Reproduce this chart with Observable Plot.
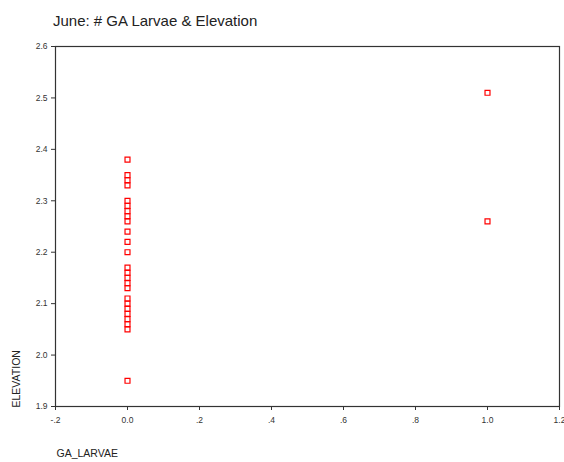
<!DOCTYPE html>
<html>
<head>
<meta charset="utf-8">
<script src="https://cdn.jsdelivr.net/npm/d3@7"></script>
<script src="https://cdn.jsdelivr.net/npm/@observablehq/plot@0.6"></script>
<style>
  html, body { margin: 0; padding: 0; background: #fff; }
  #title {
    height: 40px; box-sizing: border-box; padding: 12px 0 0 53px;
    font-family: "Liberation Sans", Arial, sans-serif; font-size: 15px; line-height: 17px; color: #222;
  }
  svg { display: block; }
</style>
</head>
<body>
<div id="title">June: # GA Larvae &amp; Elevation</div>
<div id="chart"></div>
<script>
const gaLarvae = [0,0,0,0,0,0,0,0,0,0,0,0,0,0,0,0,0,0,0,0,0,0,0,0,0,1,1];
const elevation = [2.38,2.35,2.34,2.33,2.30,2.29,2.28,2.27,2.26,2.24,2.22,2.20,
  2.17,2.16,2.15,2.14,2.13,2.11,2.10,2.09,2.08,2.07,2.06,2.05,1.95,2.51,2.26];
const xTicks = [-0.2,0,0.2,0.4,0.6,0.8,1.0,1.2];
const xTickLabels = ["-.2","0.0",".2",".4",".6",".8","1.0","1.2"];
const yTicks = [1.9,2.0,2.1,2.2,2.3,2.4,2.5,2.6];
const yTickLabels = ["1.9","2.0","2.1","2.2","2.3","2.4","2.5","2.6"];
const xLabel = "GA_LARVAE";
const yLabel = "ELEVATION";

const data = gaLarvae.map((x, i) => ({x, y: elevation[i]}));

const chart = Plot.plot({
  width: 564,
  height: 422,
  marginTop: 6,
  marginLeft: 55,
  marginRight: 5,
  marginBottom: 56,
  style: {fontFamily: "'Liberation Sans', Arial, sans-serif", fontSize: "8.5px", color: "#333", background: "#fff"},
  x: {domain: [-0.2, 1.2], ticks: xTicks, tickFormat: d => xTickLabels[xTicks.findIndex(t => Math.abs(t - d) < 1e-9)], tickSize: 4, tickPadding: 6, label: null},
  y: {domain: [1.9, 2.6], ticks: yTicks, tickFormat: d => yTickLabels[yTicks.findIndex(t => Math.abs(t - d) < 1e-9)], tickSize: 4, tickPadding: 4, label: null},
  marks: [
    Plot.frame({stroke: "#333", strokeWidth: 1.2}),
    Plot.dot(data, {x: "x", y: "y", symbol: "square", r: 2.8, stroke: "#f00", strokeWidth: 1.2, fill: "none"}),
    Plot.text([yLabel], {frameAnchor: "bottom-left", text: d => d, rotate: -90, textAnchor: "start", lineAnchor: "bottom", dx: -36, dy: 1, fontSize: 10.5, fill: "#222"}),
    Plot.text([xLabel], {frameAnchor: "bottom-left", text: d => d, textAnchor: "start", lineAnchor: "bottom", dx: 1, dy: 50, fontSize: 10.5, fill: "#222"})
  ]
});
document.getElementById("chart").appendChild(chart);
</script>
</body>
</html>
